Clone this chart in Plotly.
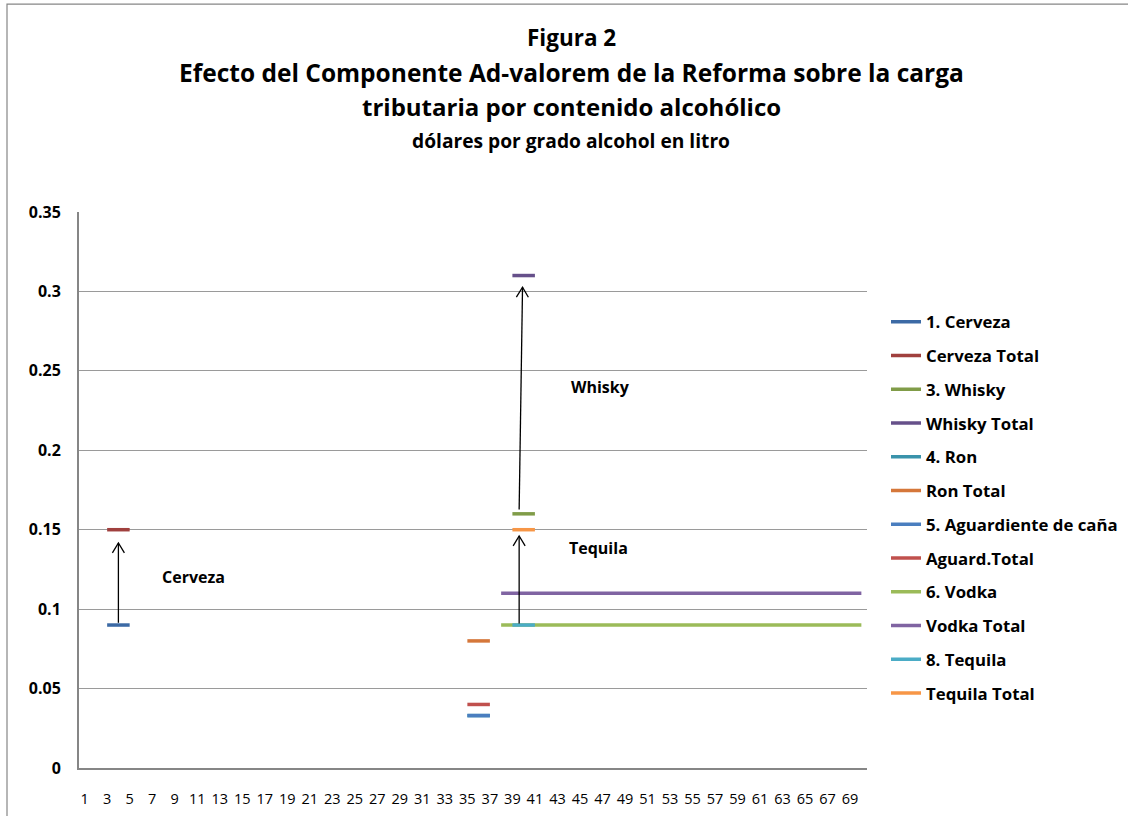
import plotly.graph_objects as go

# ---------------- data ----------------
categories = list(range(1, 71))
tick_labels = [str(c) for c in range(1, 70, 2)]

series_names = ["1. Cerveza", "Cerveza Total", "3. Whisky", "Whisky Total",
                "4. Ron", "Ron Total", "5. Aguardiente de caña", "Aguard.Total",
                "6. Vodka", "Vodka Total", "8. Tequila", "Tequila Total"]
series_start = [3, 3, 39, 39, 35, 35, 35, 35, 38, 38, 39, 39]
series_end = [5, 5, 41, 41, 37, 37, 37, 37, 70, 70, 41, 41]
series_values = [0.09, 0.15, 0.16, 0.31, 0.033, 0.08, 0.033, 0.04, 0.09, 0.11, 0.09, 0.15]

label_text = ["Cerveza", "Whisky", "Tequila"]
label_x = [10.7, 46.85, 46.65]
label_y = [0.1204, 0.2398, 0.1382]

arrow_x0 = [4, 39.6, 39.6]
arrow_y0 = [0.0914, 0.1627, 0.091]
arrow_x1 = [4, 39.9, 39.6]
arrow_y1 = [0.1417, 0.3027, 0.1461]

title_lines = ["Figura 2",
               "Efecto del Componente Ad-valorem de la Reforma sobre la carga",
               "tributaria por contenido alcohólico",
               "dólares por grado alcohol en litro"]

# ---------------- style ----------------
series_colors = ["#3C6AA5", "#A0403E", "#809C48", "#66508A", "#3A93AB", "#D5773A",
                 "#4A7EBF", "#C0504D", "#9BBB59", "#8064A2", "#4BACC6", "#F79646"]
FONT = "Open Sans"
W, H = 1128, 816
ML, MR, MT, MB = 79, 261, 211.5, 48
PW, PH = W - ML - MR, H - MT - MB
YMAX = 0.35
XMIN, XMAX = 0.5, 70.5

fig = go.Figure()
for i, name in enumerate(series_names):
    xs = [c for c in categories if series_start[i] <= c <= series_end[i]]
    ys = [series_values[i]] * len(xs)
    fig.add_trace(go.Scatter(
        x=xs, y=ys, mode="lines", name=name, legendgroup=name,
        line=dict(color=series_colors[i], width=3.5),
        hoverinfo="x+y+name"))

# px conversions for arrow heads
px_x = PW / (XMAX - XMIN)
px_y = PH / YMAX
shapes = []
for x0, y0, x1, y1 in zip(arrow_x0, arrow_y0, arrow_x1, arrow_y1):
    shapes.append(dict(type="line", xref="x", yref="y", x0=x0, y0=y0, x1=x1, y1=y1,
                       line=dict(color="black", width=1.3)))
    dx = (x1 - x0) * px_x
    dy = (y1 - y0) * px_y
    L = (dx ** 2 + dy ** 2) ** 0.5
    ux, uy = dx / L, dy / L
    nx, ny = -uy, ux
    hl, hw = 10, 6
    w1 = (x1 + (-hl * ux + hw * nx) / px_x, y1 + (-hl * uy + hw * ny) / px_y)
    w2 = (x1 + (-hl * ux - hw * nx) / px_x, y1 + (-hl * uy - hw * ny) / px_y)
    path = f"M {w1[0]},{w1[1]} L {x1},{y1} L {w2[0]},{w2[1]}"
    shapes.append(dict(type="path", xref="x", yref="y", path=path,
                       line=dict(color="black", width=1.3)))

# chart border
shapes.append(dict(type="rect", xref="paper", yref="paper",
                   x0=(7 - ML) / PW, x1=(W + 5 - ML) / PW,
                   y0=(H - MB - (H + 5)) / PH, y1=(H - MB - 3.5) / PH,
                   line=dict(color="#868686", width=1.2), layer="below"))

annotations = []
for t, x, y in zip(label_text, label_x, label_y):
    annotations.append(dict(text=t, x=x, y=y, xref="x", yref="y", showarrow=False,
                            font=dict(family=FONT, size=16, color="black", weight="bold")))

title_y_px = [37, 72, 106, 140]
title_size = [22.5, 24.5, 24, 19.2]
for t, ypx, sz in zip(title_lines, title_y_px, title_size):
    annotations.append(dict(text=t, x=(571 - ML) / PW, y=(H - MB - ypx) / PH,
                            xref="paper", yref="paper", showarrow=False,
                            xanchor="center", yanchor="middle",
                            font=dict(family=FONT, size=sz, color="black", weight="bold")))

fig.update_layout(
    width=W, height=H, autosize=False,
    margin=dict(l=ML, r=MR, t=MT, b=MB, pad=0, autoexpand=False),
    paper_bgcolor="white", plot_bgcolor="white",
    font=dict(family=FONT, color="black"),
    showlegend=True,
    legend=dict(x=(886 - ML) / PW, xanchor="left", y=(H - MB - 304) / PH, yanchor="top",
                font=dict(family=FONT, size=16.8, color="black", weight="bold"),
                tracegroupgap=8.9, bgcolor="rgba(0,0,0,0)", itemwidth=30),
    xaxis=dict(range=[XMIN, XMAX], tickmode="array",
               tickvals=list(range(1, 70, 2)), ticktext=tick_labels,
               showgrid=False, zeroline=False, showline=True,
               linecolor="#868686", linewidth=2, ticks="",
               tickfont=dict(family=FONT, size=14.5, color="black"),
               ticklabelstandoff=17),
    yaxis=dict(range=[0, YMAX], tickmode="array",
               tickvals=[0, 0.05, 0.1, 0.15, 0.2, 0.25, 0.3, 0.35],
               ticktext=["0", "0.05", "0.1", "0.15", "0.2", "0.25", "0.3", "0.35"],
               showgrid=True, gridcolor="#9a9a9a", gridwidth=1,
               zeroline=False, showline=True, linecolor="#868686", linewidth=2,
               ticks="", tickfont=dict(family=FONT, size=16, color="black", weight="bold"),
               ticklabelstandoff=13),
    shapes=shapes, annotations=annotations,
)

fig.write_html("out.html")
